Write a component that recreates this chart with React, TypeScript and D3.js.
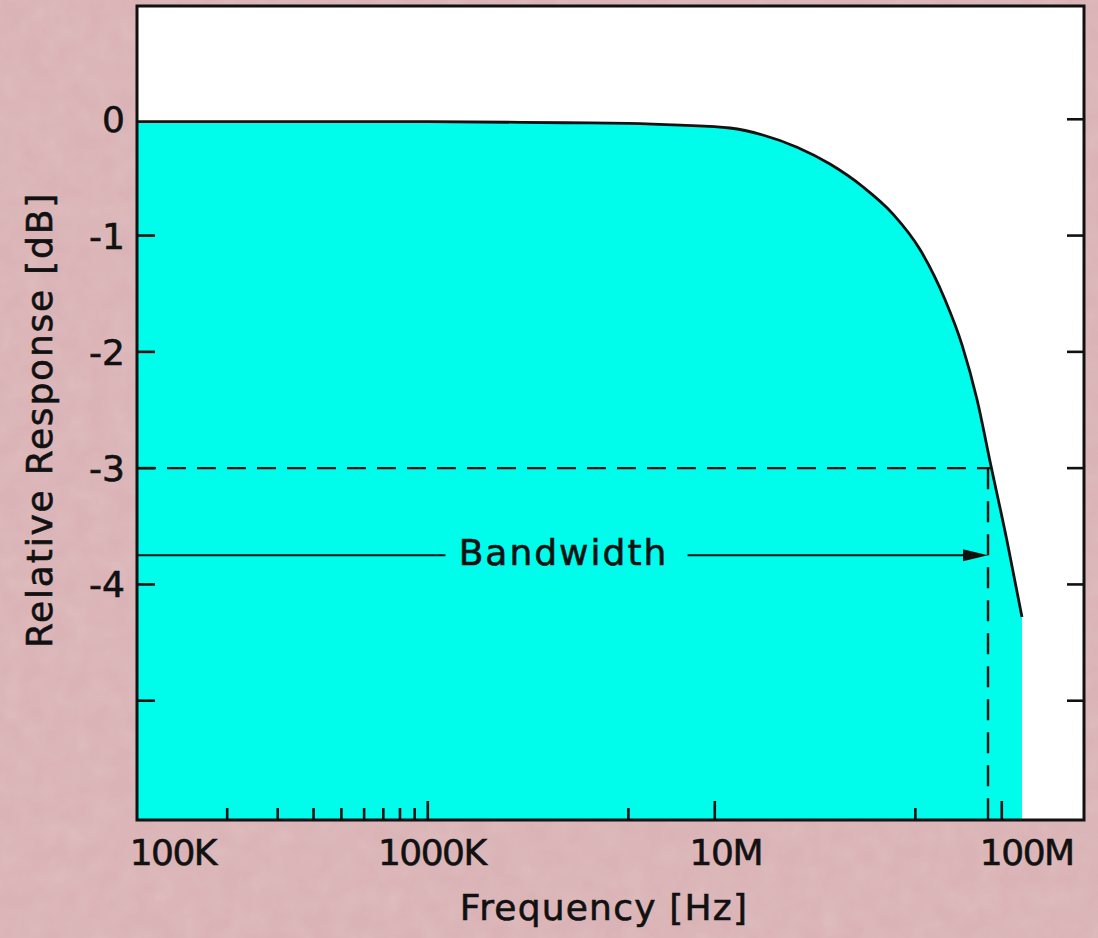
import React, { useEffect } from "react";
import * as d3 from "d3";

// frequency response
const freqs = [9.7e4, 1e6, 3e6, 5e6, 7.57e6, 1.13e7, 1.47e7, 1.935e7, 2.52e7, 3.28e7, 4.18e7, 5.19e7, 6.34e7, 7.27e7, 8.2e7, 9.17e7, 1.042e8, 1.176e8];
const responseDb = [-0.02, -0.02, -0.03, -0.035, -0.05, -0.075, -0.135, -0.24, -0.385, -0.58, -0.815, -1.12, -1.55, -1.94, -2.41, -2.98, -3.62, -4.28];

const bandwidthFreq = 9.1e7;
const cutoffDb = -3;
const arrowDb = -3.75;

const yTicks = [0, -1, -2, -3, -4, -5];
const yTickLabels = ["0", "-1", "-2", "-3", "-4", ""];
const xMajorTicks = [1e6, 1e7, 1e8];
const xMinorTicks = [2e5, 3e5, 4e5, 5e5, 6e5, 7e5, 8e5, 9e5, 5e6, 5e7];
const xLabelValues = [1e5, 1e6, 1e7, 1e8];
const xLabels = ["100K", "1000K", "10M", "100M"];

const width = 1098;
const height = 938;
const left = 137;
const right = 1084;
const top = 6;
const bottom = 820;
const labelShift = [32, 4, 11, 25];
const font = "'DejaVu Sans', sans-serif";
const cyan = "#00fcea";
const ink = "#111";

// slightly heavier lettering, like the printed original
const textStyle = { fontFamily: font, fontSize: 36, fill: ink, stroke: ink, strokeWidth: 0.6 };

export default function App() {
  useEffect(() => {
    document.body.style.margin = "0";
  }, []);

  const x = d3.scaleLog().domain([9.7e4, 1.95e8]).range([left, 1085]);
  const y = d3.scaleLinear().domain([-6, 1]).range([817, 3]);

  const pts = freqs.map((f, i) => [f, responseDb[i]] as [number, number]);

  const area = d3.area<[number, number]>()
    .x(d => x(d[0]))
    .y0(bottom)
    .y1(d => y(d[1]))
    .curve(d3.curveMonotoneX);

  const line = d3.line<[number, number]>()
    .x(d => x(d[0]))
    .y(d => y(d[1]))
    .curve(d3.curveMonotoneX);

  const bx = x(bandwidthFreq);
  const cy = y(cutoffDb);
  const ay = y(arrowDb);
  const textX = (left + bx) / 2;

  return (
    <svg width={width} height={height} style={{ display: "block" }}>
      <defs>
        <filter id="paper" x="0" y="0" width="100%" height="100%">
          <feTurbulence type="fractalNoise" baseFrequency="0.045" numOctaves="3" seed="4" />
          <feColorMatrix type="matrix" values="0 0 0 0 1  0 0 0 0 1  0 0 0 0 1  0 0 0 0.35 -0.1" />
        </filter>
      </defs>
      <rect width={width} height={height} fill="#dab3b6" />
      <rect width={width} height={height} filter="url(#paper)" opacity={0.5} />

      <rect x={left} y={top} width={right - left} height={bottom - top} fill="#fff" />
      <path d={area(pts) ?? ""} fill={cyan} />
      <path d={line(pts) ?? ""} fill="none" stroke={ink} strokeWidth={2.8} />

      {/* -3 dB guides */}
      <line x1={left} x2={bx} y1={cy} y2={cy} stroke={ink} strokeWidth={2.4} strokeDasharray="19 11" />
      <line x1={bx - 2} x2={bx - 2} y1={cy} y2={bottom} stroke={ink} strokeWidth={2.4} strokeDasharray="21 12" />

      {/* bandwidth arrow */}
      <line x1={left} x2={textX - 118} y1={ay} y2={ay} stroke={ink} strokeWidth={2} />
      <line x1={textX + 124} x2={bx - 26} y1={ay} y2={ay} stroke={ink} strokeWidth={2} />
      <path d={`M${bx - 2},${ay} L${bx - 27},${ay - 6} L${bx - 27},${ay + 6} Z`} fill={ink} />
      <text x={textX} y={ay + 10} textAnchor="middle" letterSpacing={2} style={textStyle}>Bandwidth</text>

      {/* ticks */}
      {yTicks.map(t => (
        <g key={"yt" + t}>
          {t !== 0 && <line x1={left} x2={left + 18} y1={y(t)} y2={y(t)} stroke={ink} strokeWidth={2.6} />}
          <line x1={right - 17} x2={right} y1={y(t)} y2={y(t)} stroke={ink} strokeWidth={2.6} />
        </g>
      ))}
      {xMajorTicks.map(t => (
        <line key={"xM" + t} x1={x(t)} x2={x(t)} y1={bottom} y2={bottom - 19} stroke={ink} strokeWidth={2.6} />
      ))}
      {xMinorTicks.map(t => (
        <line key={"xm" + t} x1={x(t)} x2={x(t)} y1={bottom} y2={bottom - 12} stroke={ink} strokeWidth={2.6} />
      ))}

      <rect x={left} y={top} width={right - left} height={bottom - top} fill="none" stroke={ink} strokeWidth={3} />

      {/* tick labels */}
      {yTicks.map((t, i) => (
        <text key={"yl" + t} x={125} y={y(t)} dy="0.36em" textAnchor="end" style={textStyle}>{yTickLabels[i]}</text>
      ))}
      {xLabelValues.map((v, i) => (
        <text key={"xl" + v} x={x(v) + labelShift[i]} y={865} textAnchor="middle" letterSpacing={-1.5} style={textStyle}>{xLabels[i]}</text>
      ))}

      {/* axis titles */}
      <text x={604} y={920} textAnchor="middle" letterSpacing={1.2} style={textStyle}>Frequency [Hz]</text>
      <text transform="translate(52,420) rotate(-90)" textAnchor="middle" letterSpacing={1.8} style={textStyle}>Relative Response [dB]</text>
    </svg>
  );
}
